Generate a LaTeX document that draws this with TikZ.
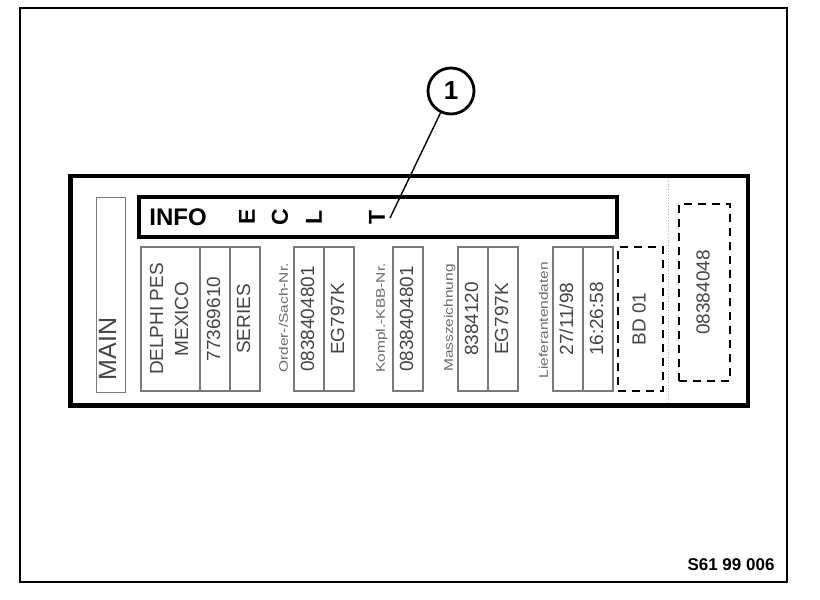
\documentclass[tikz,border=0pt]{standalone}
\usepackage{fontspec}
\setmainfont{Liberation Sans}
\newfontfamily\labelfont[FakeStretch=1.25]{Liberation Sans}
\usetikzlibrary{positioning}
\definecolor{inkgray}{HTML}{454545}
\definecolor{rulegray}{HTML}{7A7A7A}
\definecolor{labelgray}{HTML}{6A6A6A}
\newcommand{\vtext}[1]{\rotatebox{90}{\begin{tabular}{@{}c@{}}#1\end{tabular}}}
\tikzset{
  cell/.style={rectangle, draw=rulegray, line width=0.6pt, minimum width=15pt,
               minimum height=72pt, inner sep=0pt, outer sep=0pt,
               text=inkgray, font=\fontsize{9.5}{12.5}\selectfont},
  widecell/.style={cell, minimum width=29.5pt},
  dashcell/.style={cell, draw=black, dash pattern=on 4pt off 3pt, line width=0.7pt},
  fieldlabel/.style={inner sep=0pt, text=labelgray,
               font=\labelfont\fontsize{6.2}{7}\selectfont},
  infobox/.style={rectangle, draw=black, line width=2pt, minimum width=239pt,
               minimum height=20pt, inner sep=0pt},
  stamp/.style={inner sep=0pt, font=\bfseries\fontsize{11.5}{11.5}\selectfont},
  callout/.style={circle, draw=black, line width=1.4pt, minimum size=23pt,
               inner sep=0pt, font=\bfseries\fontsize{13}{13}\selectfont},
  leader/.style={line width=0.7pt},
}

\begin{document}
\begin{tikzpicture}[x=0.5pt, y=-0.5pt]
  \fill[white] (0,0) rectangle (820,600);
  \useasboundingbox (0,0) rectangle (820,600);

  % frame and label plate
  \draw[line width=1pt] (20,7.5) rectangle (787,581.5);
  \draw[line width=2.25pt] (70.5,176) rectangle (748,405.5);
  \draw[densely dotted, draw=gray!60, line width=0.4pt] (668,178) -- (668,404);

  % info strip
  \node[infobox] (info) at (377.8,217) {};
  \node[stamp, font=\bfseries\fontsize{12}{12}\selectfont] (infotxt) at (178,217.5) {INFO};
  \node[stamp, rotate=90] (letE) at (247,217) {E};
  \node[stamp, rotate=90] (letC) at (280,217) {C};
  \node[stamp, rotate=90] (letL) at (314,217) {L};
  \node[stamp, rotate=90] (letT) at (377,217) {T};

  % main field
  \node[cell, minimum width=14.5pt, minimum height=97.5pt] (mainbox) at (111,295.3) {};
  \node[inner sep=0pt, text=inkgray, font=\fontsize{12.5}{13}\selectfont,
        above=6pt of mainbox.south] (maintxt) {\vtext{MAIN}};

  % data fields
  \node[widecell] (maker) at (170.5,319) {\vtext{DELPHI PES\\MEXICO}};
  \node[cell, right=0pt of maker]  (partno) {\vtext{77369610}};
  \node[cell, right=0pt of partno] (series) {\vtext{SERIES}};

  \node[fieldlabel] (orderlbl) at (285,318) {\vtext{Order-/Sach-Nr.}};
  \node[cell] (ordernr) at (309,319) {\vtext{0838404801}};
  \node[cell, right=0pt of ordernr] (ordereg) {\vtext{EG797K}};

  \node[fieldlabel] (kompllbl) at (382,318) {\vtext{Kompl.-KBB-Nr.}};
  \node[cell] (komplnr) at (408,319) {\vtext{0838404801}};

  \node[fieldlabel] (masslbl) at (450,318) {\vtext{Masszeichnung}};
  \node[cell] (massnr) at (473,319) {\vtext{8384120}};
  \node[cell, right=0pt of massnr] (masseg) {\vtext{EG797K}};

  \node[fieldlabel] (lieflbl) at (545,320) {\vtext{Lieferantendaten}};
  \node[cell] (liefdate) at (568,319) {\vtext{27/11/98}};
  \node[cell, right=0pt of liefdate] (lieftime) {\vtext{16:26:58}};

  \node[dashcell, minimum width=22.5pt] (batch) at (640.5,319) {\vtext{BD 01}};
  \node[dashcell, minimum width=25.5pt, minimum height=88.5pt] (barcode)
        at (704.5,292.5) {\vtext{08384048}};

  % callout
  \node[callout] (callout) at (451,91) {1};
  \coordinate (tipT) at (390,218);
  \draw[leader] (callout) -- (tipT);

  \node[inner sep=0pt, font=\bfseries\fontsize{8.5}{8.5}\selectfont] (figno) at (731,565) {S61 99 006};
\end{tikzpicture}
\end{document}
